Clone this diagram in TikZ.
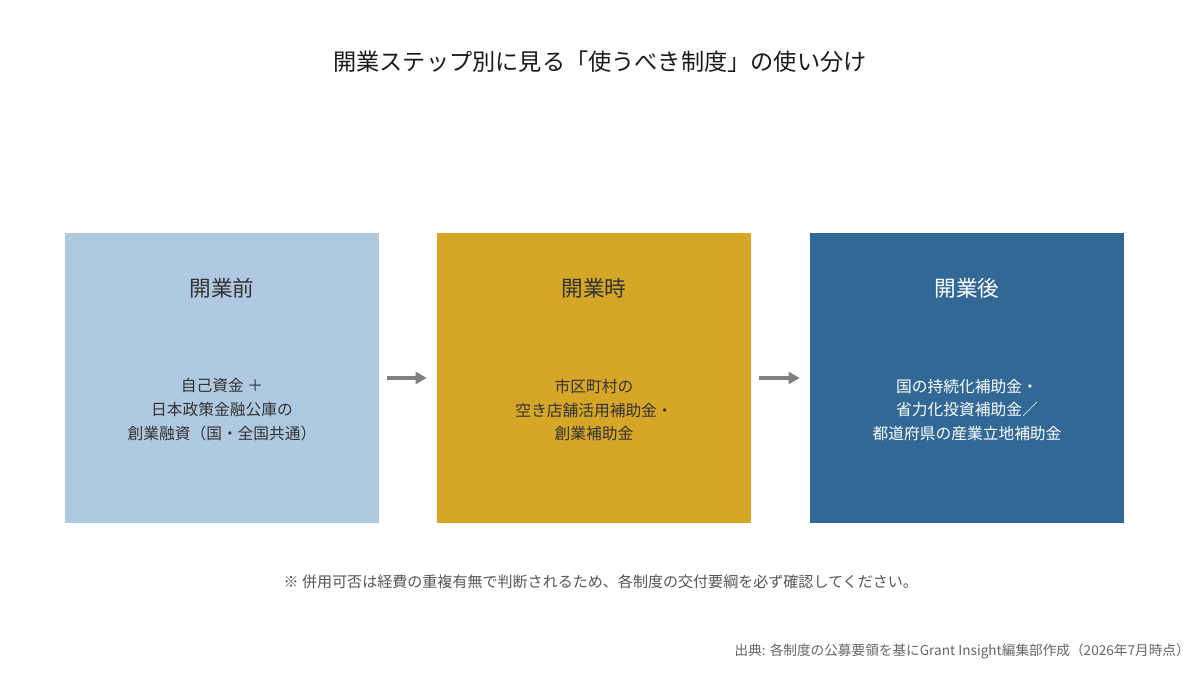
\documentclass[tikz,border=0pt]{standalone}
\usepackage{fontspec}
\setmainfont{Noto Sans CJK JP}
\usetikzlibrary{positioning,arrows.meta}
\definecolor{sPre}  {RGB}{175,201,225}
\definecolor{sMid}  {RGB}{214,166, 41}
\definecolor{sPost} {RGB}{ 50,104,150}
\definecolor{sText} {RGB}{ 51, 51, 51}
\definecolor{sArrow}{RGB}{128,128,128}
\definecolor{sNote} {RGB}{ 85, 85, 85}
\definecolor{sSrc}  {RGB}{102,102,102}

\begin{document}
\begin{tikzpicture}

% ---------------------------------------------------------------- styles
\tikzset{
  stage/.style = {minimum width=7.85cm, minimum height=7.25cm,
                  inner sep=0pt, draw=none},
  head/.style  = {font=\fontsize{15.4}{18}\selectfont, text=sText},
  body/.style  = {font=\fontsize{11.2}{17}\selectfont, text=sText,
                  align=center},
  arr/.style   = {draw=sArrow, line width=2.6pt,
                  -{Triangle[length=2.8mm,width=3mm]},
                  shorten <=0.2cm, shorten >=0.25cm},
}

\useasboundingbox (0,0) rectangle (30,-16.8);

% ================================================================ title
\node[font=\fontsize{16.5}{20}\selectfont, text=black!90] (title) at (15.0,-1.55)
  {開業ステップ別に見る「使うべき制度」の使い分け};

% ================================================================ stages
\node[stage, fill=sPre]  (bpre)  at (5.55,-9.45)  {};
\node[stage, fill=sMid]  (bmid)  at (14.85,-9.45) {};
\node[stage, fill=sPost] (bpost) at (24.175,-9.45) {};

\node[head] (hpre)  at (5.55,-7.2)   {開業前};
\node[head] (hmid)  at (14.85,-7.2)  {開業時};
\node[head, text=white] (hpost) at (24.175,-7.2) {開業後};

\node[body] (tpre) at (5.55,-10.25)
  {自己資金 ＋\\日本政策金融公庫の\\創業融資（国・全国共通）};
\node[body] (tmid) at (14.85,-10.25)
  {市区町村の\\空き店舗活用補助金・\\創業補助金};
\node[body, text=white] (tpost) at (24.175,-10.25)
  {国の持続化補助金・\\省力化投資補助金／\\都道府県の産業立地補助金};

% ------------------------------------------------- arrows, in the gaps
\draw[arr] (bpre.east) -- (bmid.west);
\draw[arr] (bmid.east) -- (bpost.west);

% ================================================================ notes
\node[font=\fontsize{10.7}{13}\selectfont, text=sNote] (note) at (15.02,-14.55)
  {※ 併用可否は経費の重複有無で判断されるため、各制度の交付要綱を必ず確認してください。};
\node[font=\fontsize{9.7}{12}\selectfont, text=sSrc, anchor=east, inner sep=0pt]
  (src) at (29.75,-16.28)
  {出典: 各制度の公募要領を基にGrant Insight編集部作成（2026年7月時点）};

\end{tikzpicture}
\end{document}
